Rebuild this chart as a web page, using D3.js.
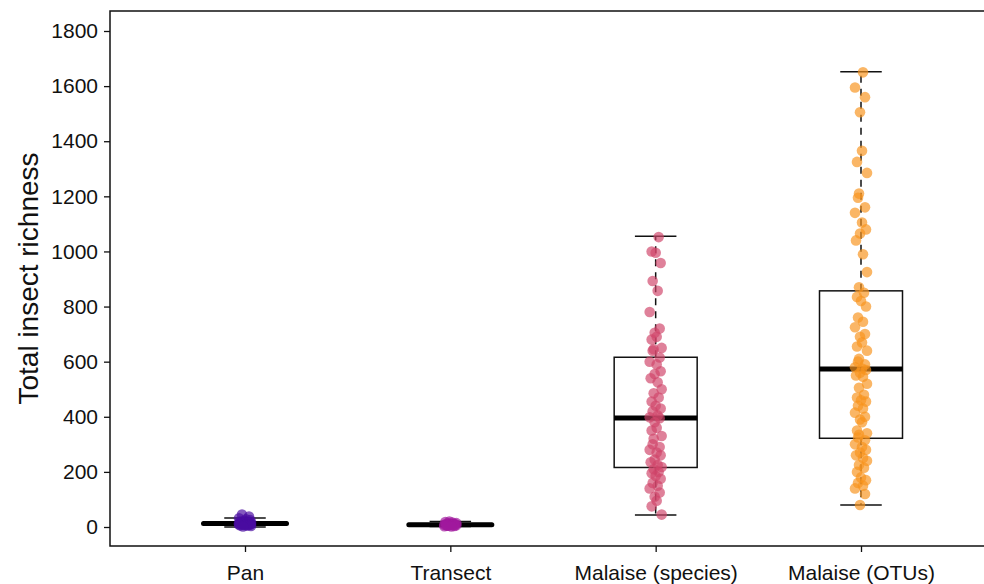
<!DOCTYPE html>
<html>
<head>
<meta charset="utf-8">
<script src="https://d3js.org/d3.v7.min.js"></script>
<style>
  body { margin: 0; background: #fff; }
  svg text { font-family: "Liberation Sans", Arial, sans-serif; fill: #111; }
</style>
</head>
<body>
<svg width="984" height="584"></svg>
<script>
// categories and colours
var groups = ["Pan", "Transect", "Malaise (species)", "Malaise (OTUs)"];
var colors = ["#4a0ca0", "#a0199e", "#d0456a", "#f7941e"];

// box stats: [low whisker, Q1, median, Q3, high whisker]
var boxPan = [0, 8, 13, 17, 33];
var boxTransect = [2, 5, 8, 12, 20];
var boxSpecies = [44, 216, 396, 616, 1055];
var boxOtus = [80, 322, 573, 857, 1652];

// observed richness values
var pan = [45, 38, 32, 28, 25, 22, 20, 19, 18, 17, 16, 16, 15, 15, 14, 14, 13, 13, 12, 12,
  11, 11, 10, 10, 9, 9, 8, 8, 7, 6, 5, 4, 2];
var transect = [20, 18, 16, 14, 13, 12, 11, 10, 10, 9, 9, 8, 8, 7, 7, 6, 6, 5, 5, 4, 3, 2];
var species = [1052, 1000, 995, 958, 893, 857, 780, 720, 705, 690, 680, 650, 645, 640, 615,
  600, 590, 565, 555, 540, 525, 500, 485, 470, 455, 440, 430, 420, 405, 398, 395, 380, 360,
  350, 330, 320, 300, 290, 280, 270, 260, 245, 235, 225, 218, 210, 200, 195, 185, 175, 160,
  150, 140, 125, 110, 95, 75, 45];
var otus = [1650, 1595, 1560, 1505, 1365, 1325, 1285, 1210, 1195, 1160, 1140, 1105, 1080,
  1065, 1040, 990, 925, 870, 850, 835, 820, 800, 760, 745, 725, 700, 690, 670, 655, 640,
  610, 600, 590, 580, 575, 570, 560, 550, 545, 520, 505, 480, 470, 460, 455, 440, 430, 415,
  400, 390, 380, 350, 340, 335, 325, 315, 300, 290, 280, 270, 260, 250, 240, 225, 215, 200,
  180, 170, 160, 150, 140, 120, 80];

var yTicks = [0, 200, 400, 600, 800, 1000, 1200, 1400, 1600, 1800];

var boxes = [boxPan, boxTransect, boxSpecies, boxOtus];
var values = [pan, transect, species, otus];

// horizontal jitter pattern (pixels), cycled
var jitter = [-3, 4, -6, 1, 5, -1, -5, 2, 6, -2, 3, -4, 0, 5, -3, 2, -6, 4, -1, 1, -4, 6, -2];

var svg = d3.select("svg");

var x = d3.scalePoint()
  .domain(groups)
  .range([245, 861]);

var y = d3.scaleLinear()
  .domain([0, 1800])
  .range([527, 31]);

var plotL = 110, plotT = 11, plotB = 546, plotR = 1000;
var boxW = 83;

// frame
svg.append("path")
  .attr("d", "M" + plotR + "," + plotT + "H" + plotL + "V" + plotB + "H" + plotR)
  .attr("fill", "none")
  .attr("stroke", "#111")
  .attr("stroke-width", 1.5);

// y axis
var yAxis = svg.append("g")
  .attr("transform", "translate(" + plotL + ",0)")
  .call(d3.axisLeft(y).tickValues(yTicks).tickFormat(d3.format("d")).tickSize(6).tickPadding(6));
yAxis.select(".domain").remove();
yAxis.selectAll("text").style("font-size", "21px");
yAxis.selectAll("line").attr("stroke", "#111").attr("stroke-width", 1.3);

// x axis
var xAxis = svg.append("g")
  .attr("transform", "translate(0," + plotB + ")")
  .call(d3.axisBottom(x).tickSize(6).tickPadding(13));
xAxis.select(".domain").remove();
xAxis.selectAll("text").style("font-size", "21px");
xAxis.selectAll("line").attr("stroke", "#111").attr("stroke-width", 1.3);

// y title
svg.append("text")
  .attr("transform", "translate(38," + ((plotT + plotB) / 2) + ") rotate(-90)")
  .style("text-anchor", "middle")
  .style("font-size", "28px")
  .text("Total insect richness");

// boxplots
groups.forEach(function(g, i) {
  var b = boxes[i];
  var cx = x(g);
  var gg = svg.append("g");
  // whiskers
  gg.append("line")
    .attr("x1", cx).attr("x2", cx)
    .attr("y1", y(b[3])).attr("y2", y(b[4]))
    .attr("stroke", "#111").attr("stroke-width", 1.5)
    .attr("stroke-dasharray", "7,6");
  gg.append("line")
    .attr("x1", cx).attr("x2", cx)
    .attr("y1", y(b[1])).attr("y2", y(b[0]))
    .attr("stroke", "#111").attr("stroke-width", 1.5)
    .attr("stroke-dasharray", "7,6");
  [b[0], b[4]].forEach(function(v) {
    gg.append("line")
      .attr("x1", cx - boxW / 4).attr("x2", cx + boxW / 4)
      .attr("y1", y(v)).attr("y2", y(v))
      .attr("stroke", "#111").attr("stroke-width", 1.5);
  });
  gg.append("rect")
    .attr("x", cx - boxW / 2)
    .attr("y", y(b[3]))
    .attr("width", boxW)
    .attr("height", y(b[1]) - y(b[3]))
    .attr("fill", "none")
    .attr("stroke", "#111")
    .attr("stroke-width", 1.5);
  gg.append("line")
    .attr("x1", cx - boxW / 2).attr("x2", cx + boxW / 2)
    .attr("y1", y(b[2])).attr("y2", y(b[2]))
    .attr("stroke", "#000").attr("stroke-width", 5)
    .attr("stroke-linecap", i < 2 ? "round" : "butt");
});

// jittered points
groups.forEach(function(g, i) {
  svg.append("g")
    .selectAll("circle")
    .data(values[i])
    .join("circle")
    .attr("cx", function(d, j) { return x(g) + jitter[(j + i * 5) % jitter.length]; })
    .attr("cy", function(d) { return y(d); })
    .attr("r", 5.3)
    .attr("fill", colors[i])
    .attr("fill-opacity", 0.68);
});
</script>
</body>
</html>
